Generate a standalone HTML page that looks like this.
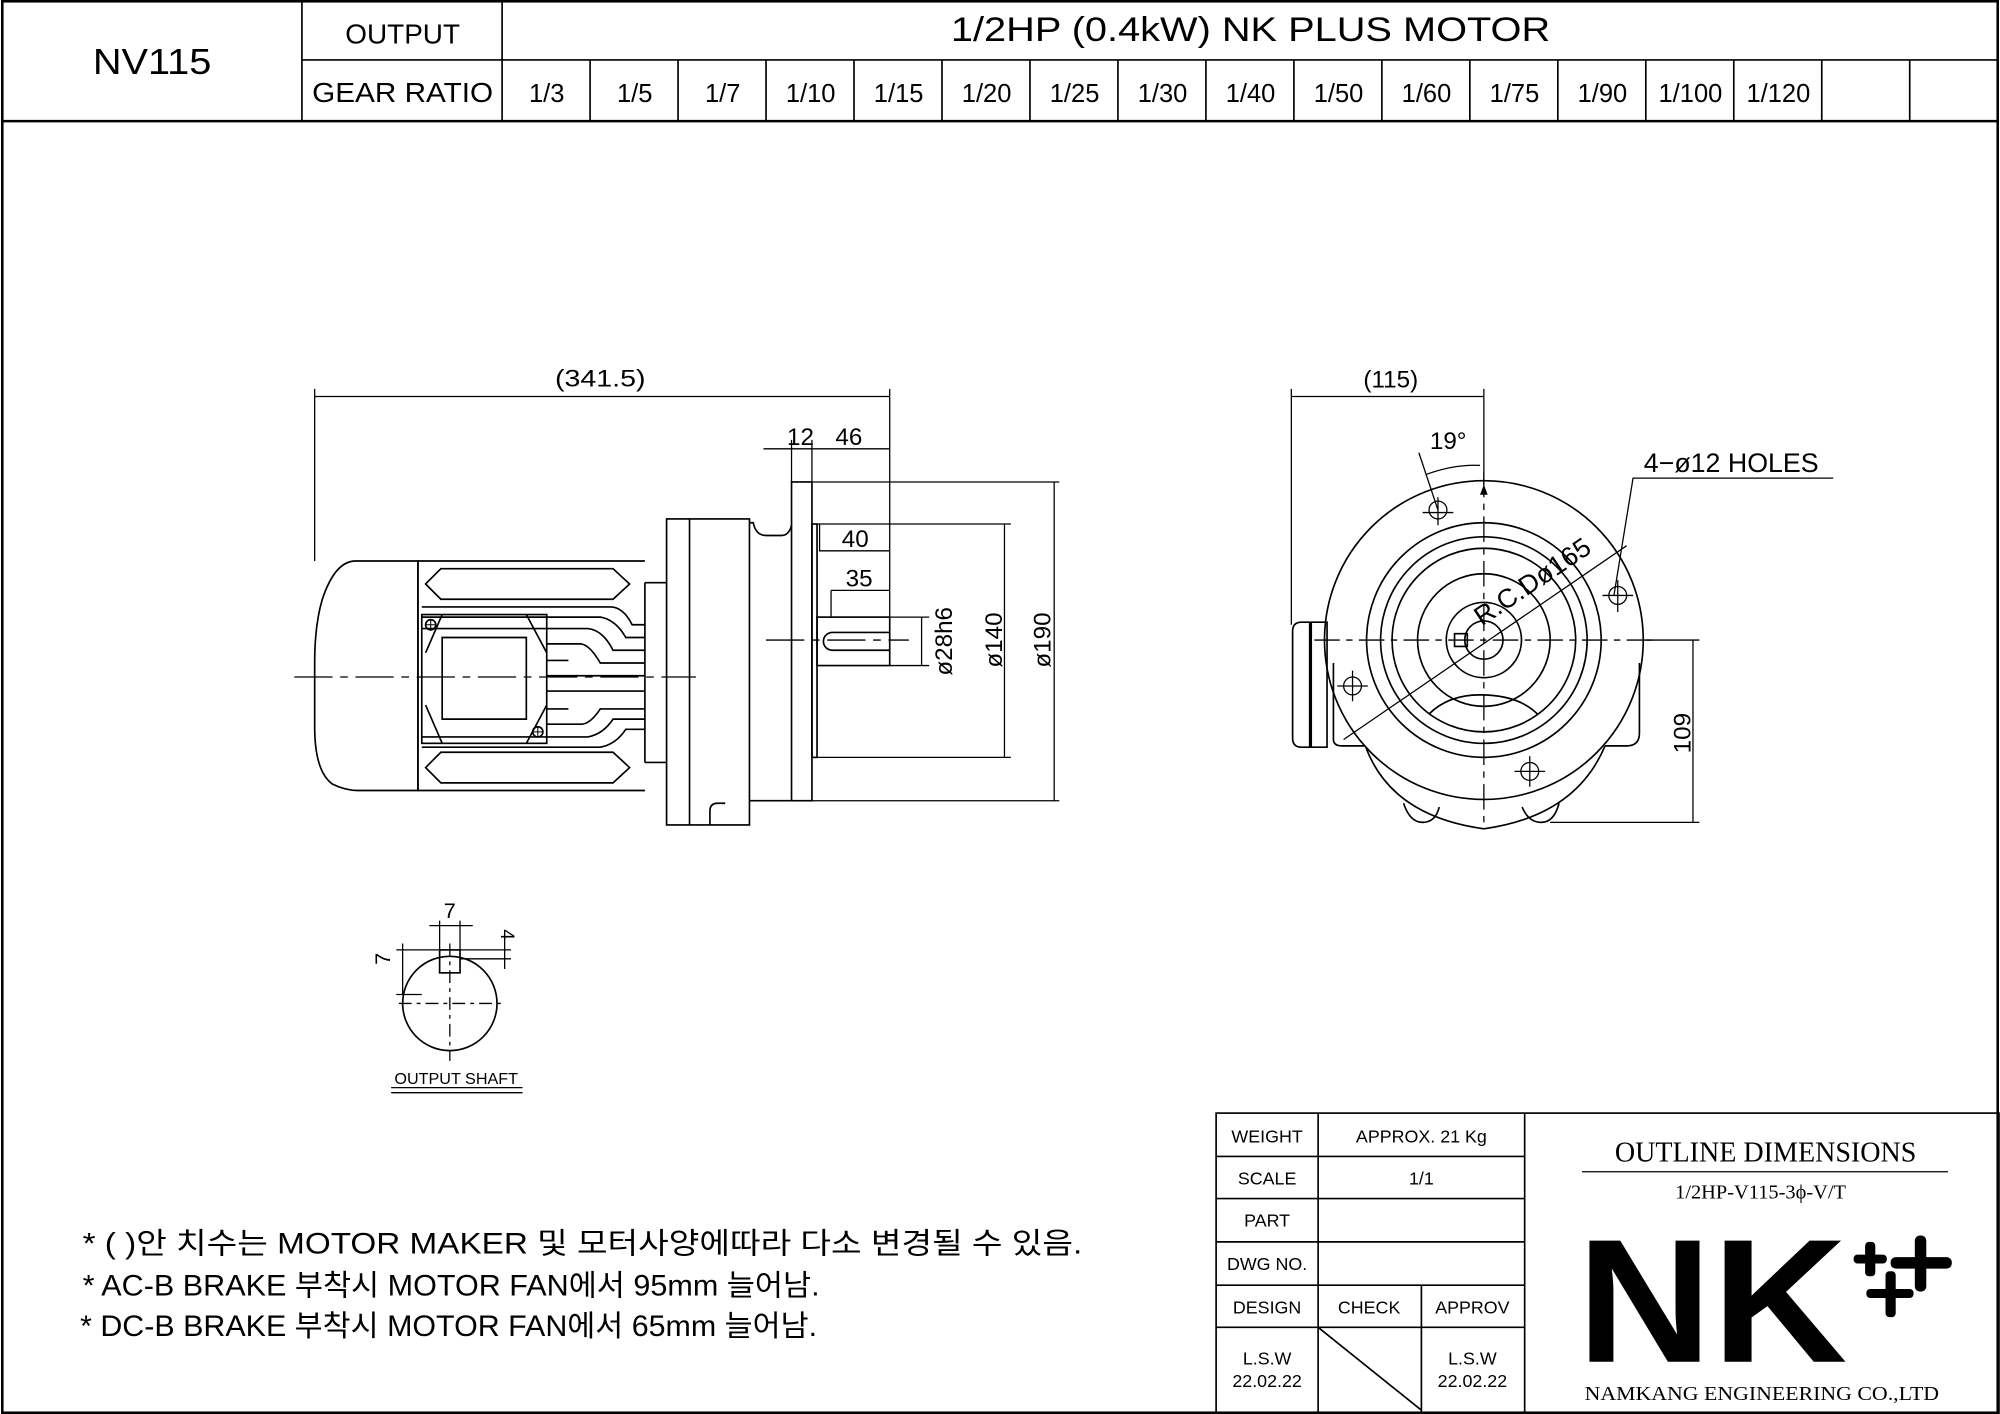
<!DOCTYPE html>
<html><head><meta charset="utf-8"><style>
html,body{margin:0;padding:0;background:#fff;}
svg{display:block}
text{font-family:"Liberation Sans","Noto Sans CJK KR",sans-serif;fill:#000}
.s{font-family:"Liberation Serif","Noto Serif CJK SC",serif}
</style></head><body>
<svg width="2000" height="1414" viewBox="0 0 1567 1109" xmlns="http://www.w3.org/2000/svg">
<g fill="none" stroke="#000" stroke-width="1.3">
<rect x="1" y="1" width="1565" height="1107" stroke-width="2"/>
<line x1="0" y1="95" x2="1567" y2="95" stroke-width="2"/>
<line x1="236" y1="0" x2="236" y2="95"/>
<line x1="393" y1="0" x2="393" y2="95"/>
<line x1="236" y1="47" x2="1567" y2="47"/>
<path d="M462 47V95M531 47V95M600 47V95M669 47V95M738 47V95M807 47V95M876 47V95M945 47V95M1014 47V95M1083 47V95M1152 47V95M1221 47V95M1290 47V95M1359 47V95M1428 47V95M1497 47V95"/>

<path d="M246 311H697M246 305V440M697 305V522" stroke-width="1"/>
<path d="M598 352H697M620 345V378M636 345V378" stroke-width="1"/>
<path d="M636 378H830M636 628H830M826 378V628" stroke-width="1"/>
<path d="M640 411H792M640 594H792M787 411V594" stroke-width="1"/>
<path d="M697 484H728M697 522H728M722 484V522" stroke-width="1"/>
<path d="M642 411V432H697M651 463V484M651 463H697" stroke-width="1"/>
<rect x="620" y="378" width="16" height="250"/>
<rect x="636" y="411" width="4" height="183"/>
<rect x="640" y="484" width="57" height="38"/>
<path d="M652 496H697M652 510H697M652 496A7 7 0 0 0 652 510"/>
<rect x="522" y="407" width="65" height="240"/>
<line x1="540" y1="407" x2="540" y2="647"/>
<path d="M587 410H590Q592 420 600 420H612Q618 420 620 412M587 628H620M556 647V636Q556 630 562 630H568"/>
<path d="M505 457H522M505 598H522M505 457V598"/>
<path d="M327 440H278Q262 440 252 470Q246 490 246 520V570Q246 605 260 615Q270 620 280 620H327Z"/>
<path d="M327 440H505M327 620H505M327 440V620"/>
<path d="M333 458L345 446H480L493 458L480 470H345Z"/>
<path d="M333 602L345 590H480L493 602L480 614H345Z"/>
<path d="M330 476H478Q488 476 495 490H505M330 484H470Q482 486 490 500H505M330 493H460Q472 494 480 510H505M428 505H455Q462 506 470 520H505M428 518H445M428 530H505M428 542H505M428 556H445M428 568H455Q462 568 470 556H505M330 578H460Q472 576 480 564H505M330 586H470Q482 584 490 572H505"/>
<rect x="330" y="482" width="98" height="101"/>
<path d="M346 500H412V564H346Z"/>
<path d="M346 482L333 512M346 583L333 553M412 482L428 512M412 583L428 553"/>
<circle cx="337" cy="490" r="4"/><circle cx="421" cy="574" r="4"/>
<path d="M333 490H341M337 486V494M417 574H425M421 570V578" stroke-width="0.8"/>
<line x1="230" y1="531" x2="545" y2="531" stroke-dasharray="30 6 6 6" stroke-width="1"/>
<line x1="600" y1="502" x2="712" y2="502" stroke-dasharray="30 6 6 6" stroke-width="1"/>

<path d="M1012 311H1163M1012 305V490M1163 305V380" stroke-width="1"/>
<path d="M1020 488H1040V586H1020Q1013 586 1013 579V495Q1013 488 1020 488Z"/>
<line x1="1027" y1="488" x2="1027" y2="586" stroke-width="2.5"/>
<path d="M1045 520V580Q1045 585 1052 585H1070M1285 520V575Q1285 585 1275 585H1258"/>
<path d="M1070 585Q1090 640 1163 650Q1235 640 1258 585"/>
<path d="M1100 630Q1105 645 1115 645Q1125 645 1128 633M1193 633Q1198 645 1208 645Q1218 645 1222 630"/>
<circle cx="1163" cy="502" r="125"/>
<circle cx="1163" cy="502" r="92"/>
<circle cx="1163" cy="502" r="81"/>
<circle cx="1163" cy="502" r="72"/>
<circle cx="1163" cy="502" r="52"/>
<circle cx="1163" cy="502" r="29.5"/>
<circle cx="1163" cy="502" r="15"/>
<path d="M1120 560Q1135 545 1160 545Q1190 545 1205 560" />
<rect x="1140" y="497" width="10" height="10"/>
<path d="M1030 502H1300M1163 370V650" stroke-dasharray="20 5 5 5" stroke-width="1"/>
<g stroke-width="1">
<circle cx="1127" cy="400" r="7"/><path d="M1115 402H1139M1127 390V412"/>
<circle cx="1268" cy="467" r="7"/><path d="M1256 467H1280M1268 455V480"/>
<circle cx="1060" cy="538" r="7"/><path d="M1048 538H1072M1060 526V550"/>
<circle cx="1199" cy="605" r="7"/><path d="M1187 605H1211M1199 593V617"/>
</g>
<path d="M1127 400L1112 355" stroke-width="1"/>
<path d="M1118 372Q1140 364 1160 365" stroke-width="1"/>
<path d="M1053 580L1275 428M1265 467L1280 375H1437" stroke-width="1"/>
<path d="M1290 502H1332M1215 645H1332M1327 502V645" stroke-width="1"/>

<circle cx="352" cy="787" r="37"/>
<rect x="344" y="745" width="16" height="18"/>
<path d="M312 787H395M352 740V832" stroke-dasharray="10 4 3 4" stroke-width="1"/>
<path d="M344 722V745M360 722V745M336 726H370" stroke-width="1"/>
<path d="M310 745H344M310 780H330M315 740V780" stroke-width="1"/>
<path d="M360 745H400M360 752H400M395 735V760" stroke-width="1"/>
<path d="M306 853H409M306 857H409" stroke-width="1"/>

<rect x="953" y="873" width="614" height="236"/>
<path d="M1033 873V1109M1195 873V1109M953 907H1195M953 940H1195M953 974H1195M953 1008H1195M953 1041H1195M1114 1008V1109M1033 1041L1114 1106"/>
<path d="M1240 919H1527" stroke-width="1"/>
</g>
<g fill="#000">
<path d="M1163 380l-3 8h6z"/>
</g>

<text x="72" y="58" font-size="28" textLength="93" lengthAdjust="spacingAndGlyphs">NV115</text>
<text x="270" y="34" font-size="22" textLength="90" lengthAdjust="spacingAndGlyphs">OUTPUT</text>
<text x="244" y="80" font-size="22" textLength="142" lengthAdjust="spacingAndGlyphs">GEAR RATIO</text>
<text x="745" y="32" font-size="27" textLength="470" lengthAdjust="spacingAndGlyphs">1/2HP (0.4kW) NK PLUS MOTOR</text>
<g font-size="20" text-anchor="middle">
<text x="428" y="80">1/3</text><text x="497" y="80">1/5</text><text x="566" y="80">1/7</text><text x="635" y="80">1/10</text><text x="704" y="80">1/15</text><text x="773" y="80">1/20</text><text x="842" y="80">1/25</text><text x="911" y="80">1/30</text><text x="980" y="80">1/40</text><text x="1049" y="80">1/50</text><text x="1118" y="80">1/60</text><text x="1187" y="80">1/75</text><text x="1256" y="80">1/90</text><text x="1325" y="80">1/100</text><text x="1394" y="80">1/120</text>
</g>
<g font-size="19" text-anchor="middle">
<text x="470" y="303" textLength="71" lengthAdjust="spacingAndGlyphs">(341.5)</text>
<text x="627" y="349">12</text><text x="665" y="349">46</text>
<text x="670" y="429">40</text><text x="673" y="460">35</text>
<text transform="translate(746,503) rotate(-90)">ø28h6</text>
<text transform="translate(785,502) rotate(-90)">ø140</text>
<text transform="translate(823,502) rotate(-90)">ø190</text>
<text x="1090" y="304">(115)</text>
<text x="1135" y="352">19°</text>
<text x="1357" y="370" font-size="21">4−ø12 HOLES</text>
<text transform="translate(1205,462) rotate(-34)" font-size="21">R.C.Dø165</text>
<text transform="translate(1325,575) rotate(-90)">109</text>
<text x="352" y="720" font-size="17">7</text>
<text transform="translate(305,752) rotate(-90)" font-size="17">7</text>
<text transform="translate(392,733) rotate(90)" font-size="15">4</text>
<text x="357" y="850" font-size="12" textLength="97" lengthAdjust="spacingAndGlyphs">OUTPUT SHAFT</text>
</g>
<g font-size="23">
<text x="64" y="983" textLength="784" lengthAdjust="spacingAndGlyphs">* (  )안 치수는 MOTOR MAKER 및 모터사양에따라 다소 변경될 수 있음.</text>
<text x="64" y="1016" textLength="578" lengthAdjust="spacingAndGlyphs">* AC-B BRAKE 부착시 MOTOR FAN에서 95mm 늘어남.</text>
<text x="62" y="1048" textLength="578" lengthAdjust="spacingAndGlyphs">* DC-B BRAKE 부착시 MOTOR FAN에서 65mm 늘어남.</text>
</g>
<g font-size="14" text-anchor="middle">
<text x="993" y="896">WEIGHT</text><text x="1114" y="896">APPROX. 21 Kg</text>
<text x="993" y="929">SCALE</text><text x="1114" y="929">1/1</text>
<text x="993" y="962">PART</text>
<text x="993" y="996">DWG NO.</text>
<text x="993" y="1030">DESIGN</text><text x="1073" y="1030">CHECK</text><text x="1154" y="1030">APPROV</text>
<text x="993" y="1070">L.S.W</text><text x="993" y="1088">22.02.22</text>
<text x="1154" y="1070">L.S.W</text><text x="1154" y="1088">22.02.22</text>
</g>
<text class="s" x="1384" y="911" font-size="22" text-anchor="middle">OUTLINE DIMENSIONS</text>
<text class="s" x="1380" y="940" font-size="16" text-anchor="middle">1/2HP-V115-3ϕ-V/T</text>
<text x="1236" y="1068" font-size="138" font-weight="bold" textLength="212" lengthAdjust="spacingAndGlyphs">NK</text>
<g fill="#000">
<rect x="1453" y="984" width="26" height="7" rx="3"/><rect x="1462" y="974" width="8" height="27" rx="3"/>
<rect x="1482" y="986" width="48" height="9" rx="4"/><rect x="1501" y="969" width="9" height="44" rx="4"/>
<rect x="1463" y="1011" width="37" height="7" rx="3"/><rect x="1478" y="997" width="8" height="36" rx="3"/>
</g>
<text class="s" x="1242" y="1098" font-size="16" textLength="278" lengthAdjust="spacingAndGlyphs">NAMKANG ENGINEERING CO.,LTD</text>
</svg>
</body></html>
